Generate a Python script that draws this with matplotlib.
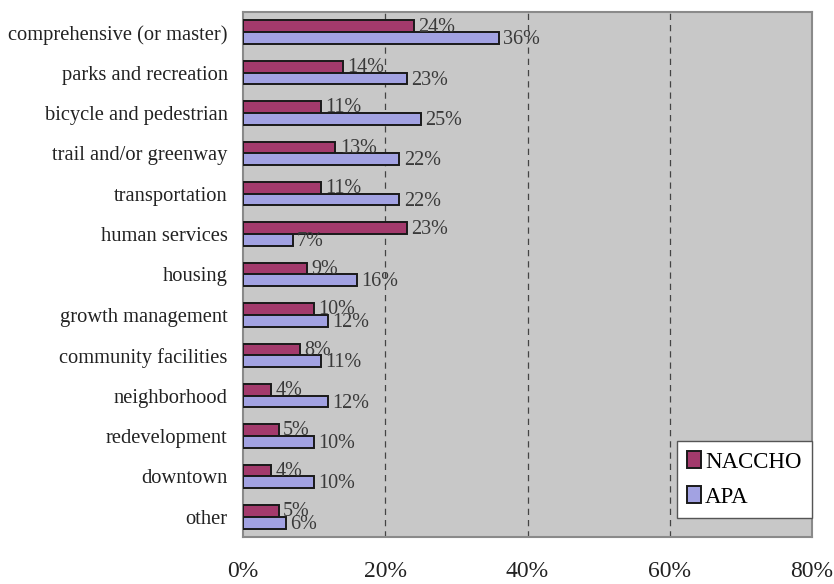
import numpy as np
import matplotlib
matplotlib.use("Agg")
import matplotlib.pyplot as plt

plt.rcParams['font.family'] = ['Liberation Serif', 'DejaVu Serif']

# plan types, top to bottom
categories = ["comprehensive (or master)", "parks and recreation", "bicycle and pedestrian",
              "trail and/or greenway", "transportation", "human services", "housing",
              "growth management", "community facilities", "neighborhood",
              "redevelopment", "downtown", "other"]
naccho = [24, 14, 11, 13, 11, 23, 9, 10, 8, 4, 5, 4, 5]
apa = [36, 23, 25, 22, 22, 7, 16, 12, 11, 12, 10, 10, 6]
xticks = [0, 20, 40, 60, 80]

fig = plt.figure(figsize=(8.34, 5.84), dpi=100)
ax = fig.add_axes([0.2914, 0.0805, 0.6822, 0.899])

y = np.arange(len(categories))
h = 0.29
ax.barh(y - h / 2, naccho, height=h, color="#A33A6C", edgecolor="#1a1a1a", linewidth=1.4, label="NACCHO", zorder=3)
ax.barh(y + h / 2, apa, height=h, color="#A2A2E2", edgecolor="#1a1a1a", linewidth=1.4, label="APA", zorder=3)

for i in range(len(categories)):
    ax.text(naccho[i] + 0.6, y[i] - h / 2 + 0.02, f"{naccho[i]}%", va="center", ha="left", fontsize=14.5, color="#3a3a3a", zorder=4)
    ax.text(apa[i] + 0.6, y[i] + h / 2 + 0.04, f"{apa[i]}%", va="center", ha="left", fontsize=14.5, color="#3a3a3a", zorder=4)

ax.set_xlim(0, 80)
ax.set_ylim(len(categories) - 0.5, -0.5)
ax.set_facecolor("#C8C8C8")
for x in xticks[1:-1]:
    ax.axvline(x, color="#444444", linestyle=(0, (5, 4)), linewidth=0.9, zorder=1)

ax.set_yticks(y)
ax.set_yticklabels(categories, fontsize=14.8, color="#222222")
ax.set_xticks(xticks)
ax.set_xticklabels([f"{v}%" for v in xticks], fontsize=17, color="#222222")
ax.tick_params(axis="both", length=0)
ax.tick_params(axis="x", pad=17)
ax.tick_params(axis="y", pad=11)
for s in ax.spines.values():
    s.set_color("#8a8a8a")
    s.set_linewidth(1.5)

leg = ax.legend(loc="lower right", bbox_to_anchor=(1.0, 0.036), fontsize=16.5, frameon=True,
                fancybox=False, edgecolor="#555555", framealpha=1, handlelength=0.6,
                handleheight=0.75, handletextpad=0.2, borderpad=0.45, labelspacing=0.6,
                borderaxespad=0)
leg.get_frame().set_linewidth(1.0)

fig.savefig("out.png", dpi=100)
